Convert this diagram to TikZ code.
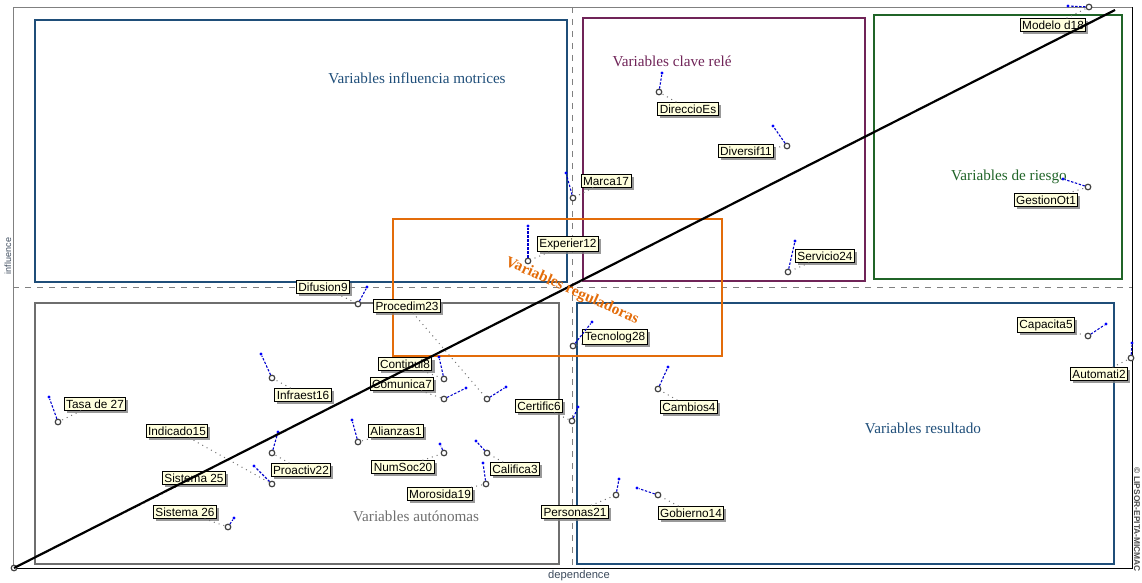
\documentclass[tikz,border=0pt]{standalone}
\usepackage{fontspec}
\setmainfont{Liberation Serif}
\setsansfont{Liberation Sans}
\usepackage{tikz}
\usetikzlibrary{positioning,shadows}
\definecolor{motblue}{RGB}{31,78,121}
\definecolor{relepurple}{RGB}{112,36,88}
\definecolor{riskgreen}{RGB}{32,100,40}
\definecolor{autgrey}{RGB}{110,110,110}
\definecolor{regorange}{RGB}{227,108,10}
\definecolor{labfill}{RGB}{255,255,222}
\definecolor{axisblue}{RGB}{60,74,92}

\begin{document}
\begin{tikzpicture}[x=0.5pt,y=-0.5pt,
  lbl/.style={draw=black, line width=0.45pt, fill=labfill, inner sep=1pt,
    font=\sffamily\fontsize{5.9}{6}\selectfont,
    drop shadow={shadow xshift=1.3pt,shadow yshift=-1.3pt,fill=gray,opacity=0.8}},
  varpt/.style={circle, draw=black!75, fill=white, line width=0.6pt, inner sep=0pt, minimum size=2.8pt},
  bluedot/.style={circle, fill=blue, inner sep=0pt, minimum size=1.6pt},
  moveline/.style={blue!80!black, line width=0.55pt, dash pattern=on 1.2pt off 0.8pt},
  leader/.style={black!55, dotted, line width=0.5pt},
  zonebox/.style={line width=1.4pt},
  zonetxt/.style={font=\fontsize{7.6}{9}\selectfont}]
\useasboundingbox (0,0) rectangle (1142,583);
% frame and mid lines
\draw[gray] (13,568) -- (13,7) -- (1132,7);
\draw (13,568) -- (1132,568) -- (1132,7);
\draw[gray, dashed, line width=0.3pt] (572,7) -- (572,568);
\draw[gray, dashed, line width=0.3pt] (13,287) -- (1132,287);
\node[font=\sffamily\fontsize{5.6}{6}\selectfont, text=axisblue] (xlab) at (579,576) {dependence};
\node[font=\sffamily\fontsize{4.5}{5}\selectfont, text=axisblue, rotate=90] (ylab) at (8,256) {influence};
\node[font=\sffamily\bfseries\fontsize{4.2}{5}\selectfont, text=black!70, rotate=-90] (copy) at (1137,520) {© LIPSOR-EPITA-MICMAC};

% zones
\draw[zonebox, motblue] (35,20) rectangle (567,282);
\draw[zonebox, relepurple] (583,18) rectangle (865,281);
\draw[zonebox, riskgreen] (874,15) rectangle (1122,279);
\draw[zonebox, autgrey] (35,303) rectangle (559,564);
\draw[zonebox, motblue] (577,303) rectangle (1114,564);
\draw[line width=1.2pt, regorange] (393,219) rectangle (722,356);
\node[zonetxt, text=motblue] (zmot) at (417,78) {Variables influencia motrices};
\node[zonetxt, text=relepurple] (zrel) at (672,61) {Variables clave relé};
\node[zonetxt, text=riskgreen] (zrie) at (1009,177) {Variables de riesgo};
\node[zonetxt, text=autgrey] (zaut) at (416,516) {Variables autónomas};
\node[zonetxt, text=motblue] (zres) at (923,428) {Variables resultado};

% variables
\node[varpt] (mod) at (1089,7) {};
\node[bluedot] (modD) at (1068,6) {};
\node[lbl] (modL) at (1053,25) {Modelo d18};
\node[varpt] (dir) at (659,92) {};
\node[bluedot] (dirD) at (662,73) {};
\node[lbl] (dirL) at (688,109) {DireccioEs};
\node[varpt] (div) at (787,146) {};
\node[bluedot] (divD) at (773,126) {};
\node[lbl] (divL) at (746,151) {Diversif11};
\node[varpt] (mar) at (573,198) {};
\node[bluedot] (marD) at (566,173) {};
\node[lbl] (marL) at (606,181) {Marca17};
\node[varpt] (exp) at (528,261) {};
\node[bluedot] (expD) at (528,226) {};
\node[lbl] (expL) at (568,244) {Experier12};
\node[varpt] (ges) at (1088,187) {};
\node[bluedot] (gesD) at (1063,179) {};
\node[lbl] (gesL) at (1046,200) {GestionOt1};
\node[varpt] (ser) at (788,272) {};
\node[bluedot] (serD) at (795,241) {};
\node[lbl] (serL) at (825,256) {Servicio24};
\node[varpt] (dif) at (358,304) {};
\node[bluedot] (difD) at (367,287) {};
\node[lbl] (difL) at (323,287) {Difusion9};
\node[varpt] (pro) at (487,399) {};
\node[bluedot] (proD) at (506,387) {};
\node[lbl] (proL) at (407,306) {Procedim23};
\node[varpt] (tec) at (573,346) {};
\node[bluedot] (tecD) at (592,322) {};
\node[lbl] (tecL) at (615,337) {Tecnolog28};
\node[varpt] (con) at (444,379) {};
\node[bluedot] (conD) at (439,357) {};
\node[lbl] (conL) at (405,364) {Continui8};
\node[varpt] (com) at (444,399) {};
\node[bluedot] (comD) at (466,388) {};
\node[lbl] (comL) at (402,384) {Comunica7};
\node[varpt] (inf) at (272,378) {};
\node[bluedot] (infD) at (261,354) {};
\node[lbl] (infL) at (303,395) {Infraest16};
\node[varpt] (tas) at (58,422) {};
\node[bluedot] (tasD) at (49,397) {};
\node[lbl] (tasL) at (95,404) {Tasa de 27};
\node[varpt] (ind) at (272,484) {};
\node[bluedot] (indD) at (254,466) {};
\node[lbl] (indL) at (177,431) {Indicado15};
\node[varpt] (pra) at (272,453) {};
\node[bluedot] (praD) at (278,432) {};
\node[lbl] (praL) at (301,470) {Proactiv22};
\node[varpt] (ali) at (358,442) {};
\node[bluedot] (aliD) at (352,420) {};
\node[lbl] (aliL) at (396,431) {Alianzas1};
\node[varpt] (num) at (444,453) {};
\node[bluedot] (numD) at (440,444) {};
\node[lbl] (numL) at (403,467) {NumSoc20};
\node[varpt] (cal) at (487,453) {};
\node[bluedot] (calD) at (476,441) {};
\node[lbl] (calL) at (515,469) {Califica3};
\node[varpt] (mor) at (486,484) {};
\node[bluedot] (morD) at (483,463) {};
\node[lbl] (morL) at (440,494) {Morosida19};
\node[varpt] (cer) at (572,421) {};
\node[bluedot] (cerD) at (578,407) {};
\node[lbl] (cerL) at (539,406) {Certific6};
\node[varpt] (sis) at (14,568) {};
\node[lbl] (sisL) at (194,478) {Sistema 25};
\node[varpt] (sit) at (228,527) {};
\node[bluedot] (sitD) at (234,518) {};
\node[lbl] (sitL) at (185,512) {Sistema 26};
\node[varpt] (cam) at (658,389) {};
\node[bluedot] (camD) at (668,367) {};
\node[lbl] (camL) at (689,407) {Cambios4};
\node[varpt] (per) at (616,495) {};
\node[bluedot] (perD) at (619,479) {};
\node[lbl] (perL) at (575,512) {Personas21};
\node[varpt] (gob) at (658,495) {};
\node[bluedot] (gobD) at (637,488) {};
\node[lbl] (gobL) at (691,513) {Gobierno14};
\node[varpt] (cap) at (1088,336) {};
\node[bluedot] (capD) at (1106,324) {};
\node[lbl] (capL) at (1046,325) {Capacita5};
\node[varpt] (aut) at (1131,358) {};
\node[bluedot] (autD) at (1132,343) {};
\node[lbl] (autL) at (1099,374) {Automati2};

% displacements
\draw[moveline] (mod) -- (modD);
\draw[moveline] (dir) -- (dirD);
\draw[moveline] (div) -- (divD);
\draw[moveline] (mar) -- (marD);
\draw[moveline] (exp) -- (expD);
\draw[moveline] (ges) -- (gesD);
\draw[moveline] (ser) -- (serD);
\draw[moveline] (dif) -- (difD);
\draw[moveline] (pro) -- (proD);
\draw[moveline] (tec) -- (tecD);
\draw[moveline] (con) -- (conD);
\draw[moveline] (com) -- (comD);
\draw[moveline] (inf) -- (infD);
\draw[moveline] (tas) -- (tasD);
\draw[moveline] (ind) -- (indD);
\draw[moveline] (pra) -- (praD);
\draw[moveline] (ali) -- (aliD);
\draw[moveline] (num) -- (numD);
\draw[moveline] (cal) -- (calD);
\draw[moveline] (mor) -- (morD);
\draw[moveline] (cer) -- (cerD);
\draw[moveline] (sit) -- (sitD);
\draw[moveline] (cam) -- (camD);
\draw[moveline] (per) -- (perD);
\draw[moveline] (gob) -- (gobD);
\draw[moveline] (cap) -- (capD);
\draw[moveline] (aut) -- (autD);

% label leaders
\draw[leader] (modL) -- (mod);
\draw[leader] (dirL) -- (dir);
\draw[leader] (divL) -- (div);
\draw[leader] (marL) -- (mar);
\draw[leader] (expL) -- (exp);
\draw[leader] (gesL) -- (ges);
\draw[leader] (serL) -- (ser);
\draw[leader] (difL) -- (dif);
\draw[leader] (proL) -- (pro);
\draw[leader] (tecL) -- (tec);
\draw[leader] (conL) -- (con);
\draw[leader] (comL) -- (com);
\draw[leader] (infL) -- (inf);
\draw[leader] (tasL) -- (tas);
\draw[leader] (indL) -- (ind);
\draw[leader] (praL) -- (pra);
\draw[leader] (aliL) -- (ali);
\draw[leader] (numL) -- (num);
\draw[leader] (calL) -- (cal);
\draw[leader] (morL) -- (mor);
\draw[leader] (cerL) -- (cer);
\draw[leader] (sisL) -- (sis);
\draw[leader] (sitL) -- (sit);
\draw[leader] (camL) -- (cam);
\draw[leader] (perL) -- (per);
\draw[leader] (gobL) -- (gob);
\draw[leader] (capL) -- (cap);
\draw[leader] (autL) -- (aut);

% diagonal
\coordinate (top) at (1115,10);
\draw[line width=1.1pt] (sis.center) -- (top);
\node[font=\bfseries\fontsize{7.7}{9}\selectfont, text=regorange, rotate=-24] (zreg) at (572,291) {Variables reguladoras};
\end{tikzpicture}
\end{document}
